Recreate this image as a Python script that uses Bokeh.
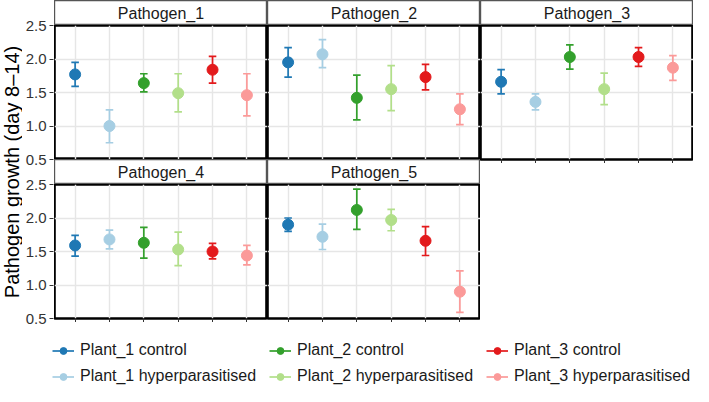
from math import pi
from bokeh.plotting import figure
from bokeh.models import (Range1d, FixedTicker, ColumnDataSource, Legend, LegendItem,
                          CustomJSTickFormatter, CustomLabelingPolicy)
from bokeh.layouts import row, column
from bokeh.core.properties import value
from bokeh.embed import file_html
from bokeh.resources import INLINE

# ---------------- data ----------------
categories = ["Plant_1 control", "Plant_1 hyperparasitised",
              "Plant_2 control", "Plant_2 hyperparasitised",
              "Plant_3 control", "Plant_3 hyperparasitised"]
colors = ["#1F78B4", "#A6CEE3", "#33A02C", "#B2DF8A", "#E31A1C", "#FB9A99"]
panel_names = ["Pathogen_1", "Pathogen_2", "Pathogen_3", "Pathogen_4", "Pathogen_5"]

pathogen_1_mean = [1.77, 1.00, 1.64, 1.49, 1.84, 1.46]
pathogen_1_low = [1.59, 0.75, 1.51, 1.21, 1.64, 1.15]
pathogen_1_high = [1.95, 1.24, 1.78, 1.78, 2.04, 1.78]

pathogen_2_mean = [1.95, 2.07, 1.42, 1.55, 1.73, 1.25]
pathogen_2_low = [1.73, 1.87, 1.09, 1.23, 1.54, 1.02]
pathogen_2_high = [2.17, 2.29, 1.76, 1.90, 1.92, 1.48]

pathogen_3_mean = [1.66, 1.36, 2.03, 1.55, 2.03, 1.87]
pathogen_3_low = [1.48, 1.24, 1.85, 1.32, 1.89, 1.68]
pathogen_3_high = [1.84, 1.48, 2.21, 1.79, 2.17, 2.05]

pathogen_4_mean = [1.59, 1.68, 1.63, 1.53, 1.50, 1.44]
pathogen_4_low = [1.43, 1.54, 1.40, 1.29, 1.39, 1.30]
pathogen_4_high = [1.74, 1.82, 1.86, 1.79, 1.62, 1.59]

pathogen_5_mean = [1.90, 1.72, 2.12, 1.97, 1.66, 0.90]
pathogen_5_low = [1.80, 1.53, 1.83, 1.81, 1.44, 0.59]
pathogen_5_high = [2.00, 1.91, 2.43, 2.13, 1.87, 1.21]

y_ticks = [0.5, 1.0, 1.5, 2.0, 2.5]
y_min, y_max = 0.5, 2.5
y_label = "Pathogen growth (day 8–14)"

panel_data = [
    (pathogen_1_mean, pathogen_1_low, pathogen_1_high),
    (pathogen_2_mean, pathogen_2_low, pathogen_2_high),
    (pathogen_3_mean, pathogen_3_low, pathogen_3_high),
    (pathogen_4_mean, pathogen_4_low, pathogen_4_high),
    (pathogen_5_mean, pathogen_5_low, pathogen_5_high),
]

# ---------------- style ----------------
FONT = "Liberation Sans"
FRAME_W = 213
FRAME_H = 134
STRIP_H = 25
TICK_BOTTOM = 4
AXIS_BOTTOM = 8
CAP_HALF = 0.11
x_pos = list(range(1, len(categories) + 1))

no_labels = CustomLabelingPolicy(code="for (const i of indices) { indices.unset(i) }")


def make_strip(label):
    s = figure(frame_width=FRAME_W, frame_height=STRIP_H, x_range=Range1d(0, 1), y_range=Range1d(0, 1),
               x_axis_type=None, y_axis_type=None, toolbar_location=None, output_backend="svg",
               min_border_left=0, min_border_right=0, min_border_top=0, min_border_bottom=0)
    s.outline_line_color = "#555555"
    s.outline_line_width = 1.4
    s.background_fill_color = "white"
    s.border_fill_color = "white"
    s.text(x=[0.5], y=[0.5], text=[label], text_align="center", text_baseline="middle",
           text_font=value(FONT), text_font_size="16px", text_color="#1A1A1A")
    return s


def make_panel(idx, show_x):
    mean, low, high = panel_data[idx]
    src = ColumnDataSource(dict(
        x=x_pos, y=mean, lo=low, hi=high, color=colors,
        cl=[v - CAP_HALF for v in x_pos], cr=[v + CAP_HALF for v in x_pos]))
    p = figure(frame_width=FRAME_W, frame_height=FRAME_H, x_range=Range1d(0.4, 6.6),
               y_range=Range1d(y_min, y_max), toolbar_location=None, output_backend="svg",
               min_border_left=0, min_border_right=0, min_border_top=0,
               min_border_bottom=TICK_BOTTOM if show_x else 0)
    p.background_fill_color = "white"
    p.border_fill_color = "white"
    p.outline_line_color = "black"
    p.outline_line_width = 2.6
    p.xaxis.ticker = FixedTicker(ticks=x_pos)
    p.yaxis.ticker = FixedTicker(ticks=y_ticks)
    p.xgrid.ticker = FixedTicker(ticks=x_pos)
    p.ygrid.ticker = FixedTicker(ticks=y_ticks)
    p.grid.grid_line_color = "#E6E6E6"
    p.grid.grid_line_width = 1.4
    p.xaxis.axis_line_color = None
    p.xaxis.major_tick_line_color = "#333333"
    p.xaxis.major_tick_in = 0
    p.xaxis.major_tick_out = 4
    p.xaxis.minor_tick_line_color = None
    p.xaxis.major_label_text_font_size = "0px"
    p.xaxis.major_label_standoff = 0
    p.xaxis.major_label_policy = no_labels
    p.yaxis.visible = False
    p.xaxis.visible = show_x

    p.segment(x0="x", y0="lo", x1="x", y1="hi", line_color="color", line_width=1.7, source=src)
    p.segment(x0="cl", y0="hi", x1="cr", y1="hi", line_color="color", line_width=1.7, source=src)
    p.segment(x0="cl", y0="lo", x1="cr", y1="lo", line_color="color", line_width=1.7, source=src)
    p.scatter(x="x", y="y", size=11, fill_color="color", line_color="color", source=src)
    return p


strips = [make_strip(n) for n in panel_names]
panels = [make_panel(0, False), make_panel(1, False), make_panel(2, True),
          make_panel(3, True), make_panel(4, True)]

# shared y axis for both facet rows (one axis, labels repeat per row)
span_h = FRAME_H * 2 + STRIP_H
units_per_px = (y_max - y_min) / FRAME_H
row_offset = (FRAME_H + STRIP_H) * units_per_px
axis_ticks = y_ticks + [t + row_offset for t in y_ticks]
ax = figure(frame_width=1, frame_height=span_h, x_range=Range1d(0, 1),
            y_range=Range1d(y_min, y_min + span_h * units_per_px),
            x_axis_type=None, toolbar_location=None, output_backend="svg",
            min_border_left=30, min_border_right=0, min_border_top=STRIP_H, min_border_bottom=AXIS_BOTTOM)
ax.outline_line_color = None
ax.grid.visible = False
ax.yaxis.ticker = FixedTicker(ticks=axis_ticks)
ax.yaxis.formatter = CustomJSTickFormatter(
    args=dict(off=row_offset, top=y_max),
    code="const v = tick > top + 1e-6 ? tick - off : tick; return v.toFixed(1);")
ax.yaxis.axis_line_color = None
ax.yaxis.major_tick_line_color = "#333333"
ax.yaxis.major_tick_in = 0
ax.yaxis.major_tick_out = 4
ax.yaxis.minor_tick_line_color = None
ax.yaxis.major_label_text_font = FONT
ax.yaxis.major_label_text_font_size = "15px"
ax.yaxis.major_label_text_color = "#333333"
ax.yaxis.major_label_standoff = 3

# y axis title
ylab = figure(frame_width=22, frame_height=span_h, x_range=Range1d(0, 1), y_range=Range1d(0, 1),
              x_axis_type=None, y_axis_type=None, toolbar_location=None, output_backend="svg",
              min_border_left=0, min_border_right=0, min_border_top=STRIP_H, min_border_bottom=AXIS_BOTTOM)
ylab.outline_line_color = None
ylab.text(x=[0.5], y=[0.5], text=[y_label], angle=pi / 2, text_align="center", text_baseline="middle",
          text_font=value(FONT), text_font_size="20px", text_color="black")

# legend
leg = figure(width=692, height=60, x_range=Range1d(0, 1), y_range=Range1d(0, 1),
             x_axis_type=None, y_axis_type=None, toolbar_location=None, output_backend="svg",
             min_border=0)
leg.outline_line_color = None
items = []
for cat, col in zip(categories, colors):
    rl = leg.line(x=[float("nan")], y=[float("nan")], line_color=col, line_width=1.7)
    rs = leg.scatter(x=[float("nan")], y=[float("nan")], size=10, fill_color=col, line_color=col)
    items.append(LegendItem(label=cat, renderers=[rl, rs]))
legend = Legend(items=items, location=(52, 1), ncols=3, orientation="vertical",
                glyph_width=22, glyph_height=17, label_height=17, label_width=181,
                label_standoff=6, spacing=8, padding=0, margin=0,
                border_line_color=None, background_fill_alpha=0,
                label_text_font=FONT, label_text_font_size="16px", label_text_color="#1A1A1A")
leg.add_layout(legend)

col1 = column(strips[0], panels[0], strips[3], panels[3])
col2 = column(strips[1], panels[1], strips[4], panels[4])
col3 = column(strips[2], panels[2])
layout = column(row(ylab, ax, col1, col2, col3), leg)

open("out.html", "w").write(file_html(layout, INLINE))
